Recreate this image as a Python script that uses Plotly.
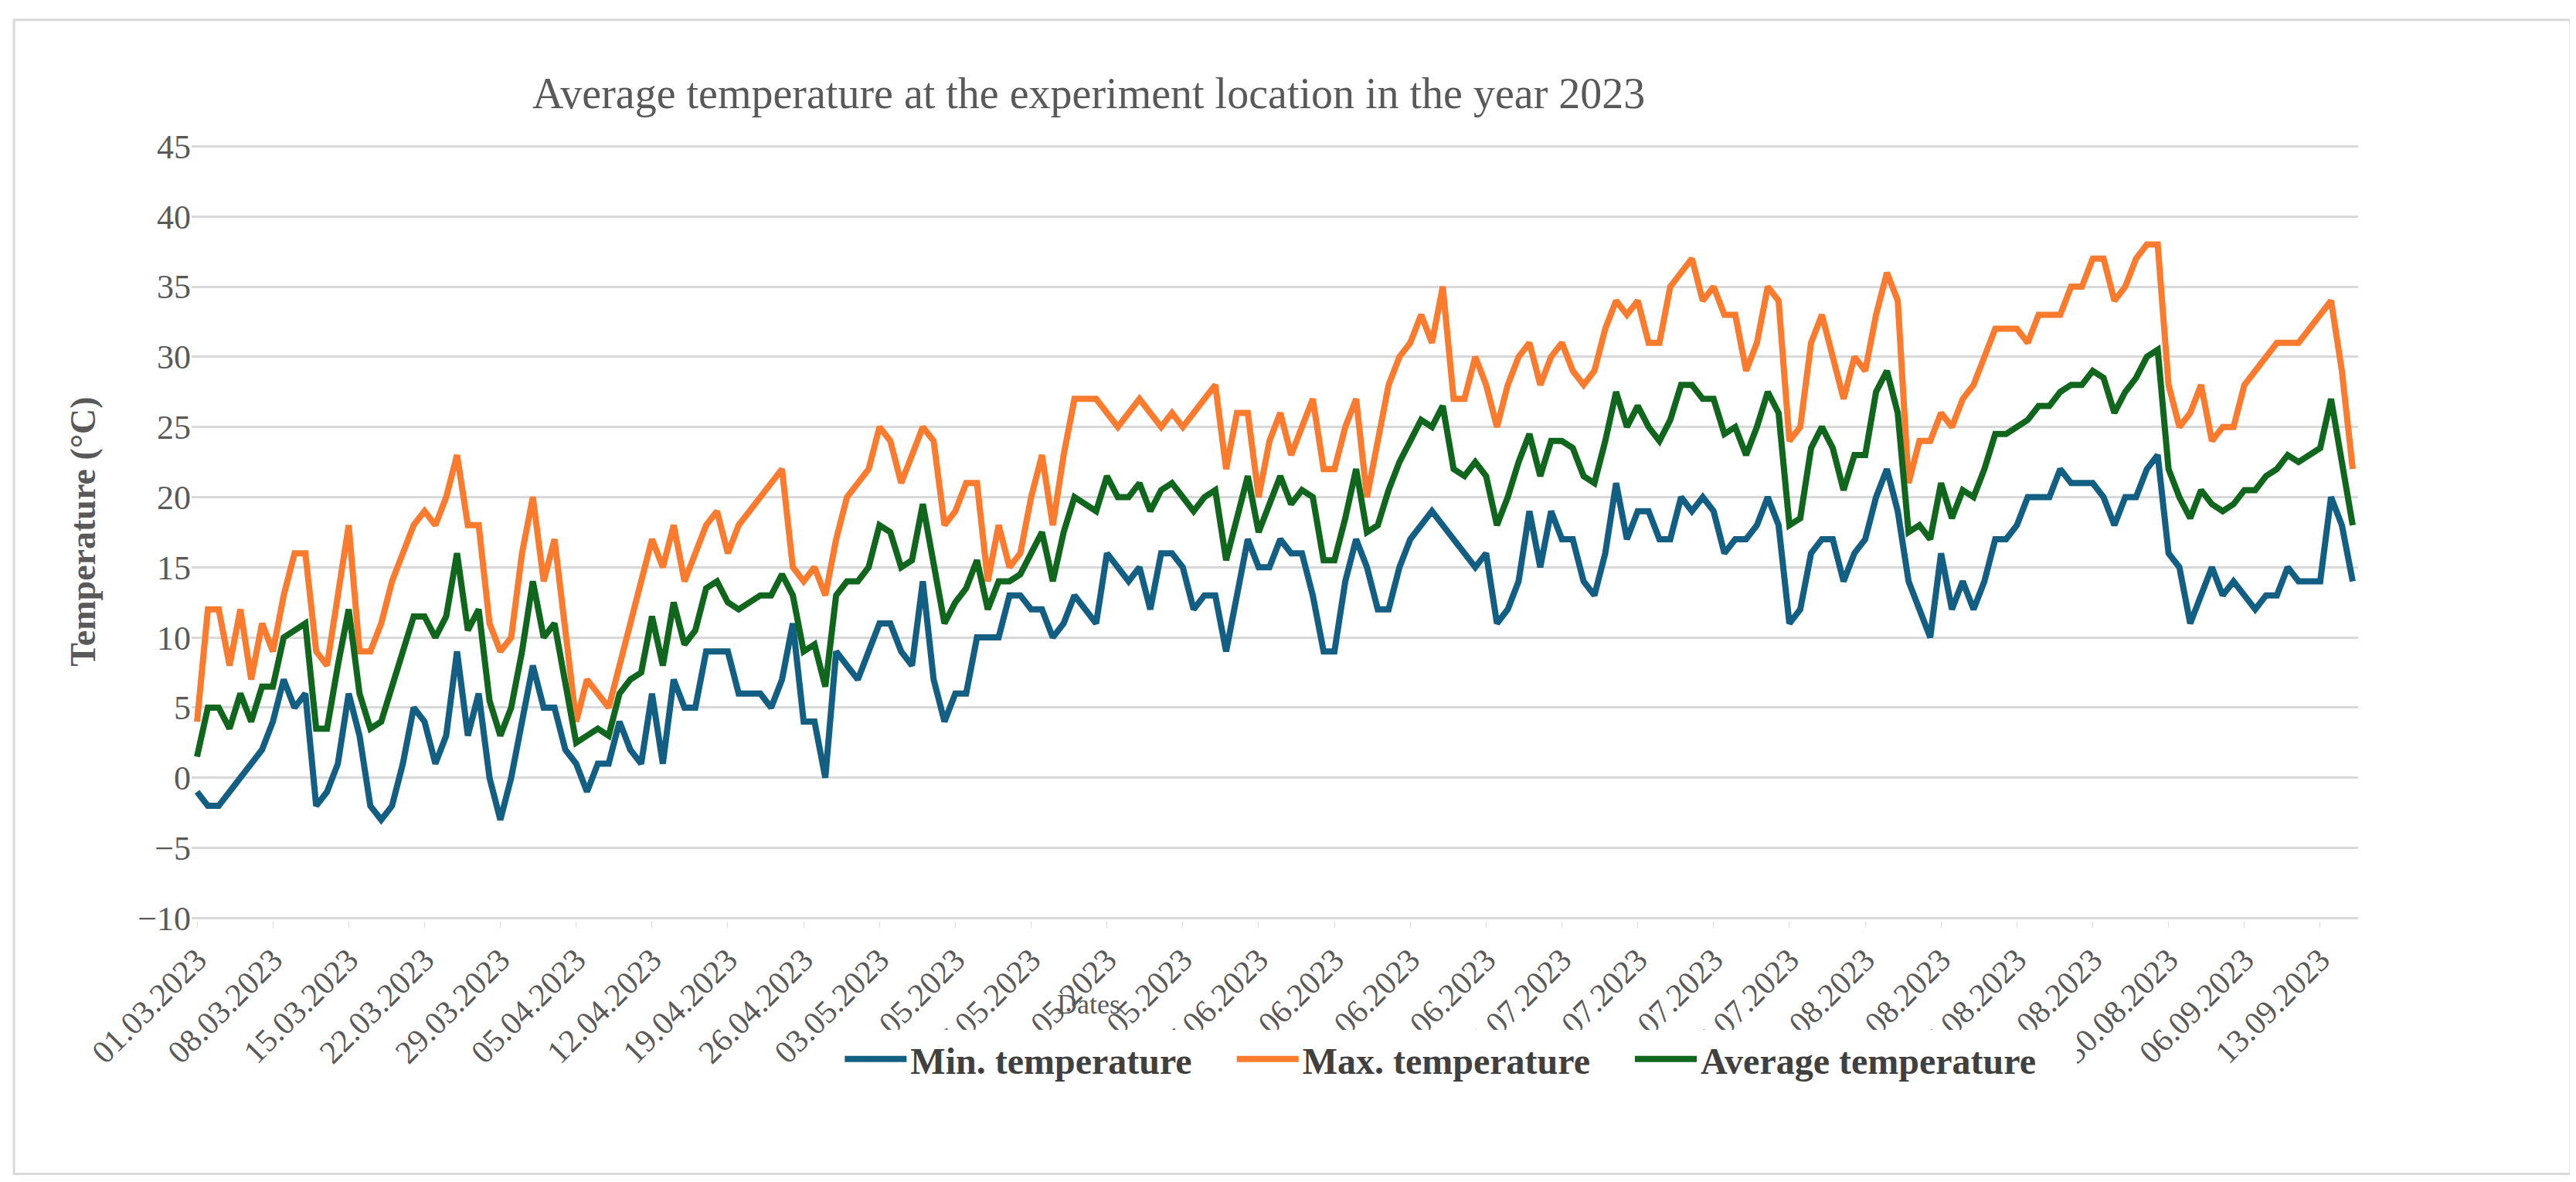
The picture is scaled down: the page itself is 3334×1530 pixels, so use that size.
import datetime as dt
import plotly.graph_objects as go

# daily values, 01.03.2023 - 17.09.2023
max_temp = (
    [4, 12, 12, 8, 12, 7, 11, 9, 13, 16, 16, 9, 8, 13, 18, 9, 9, 11, 14, 16, 18, 19, 18, 20, 23, 18, 18, 11, 9]
    + [10, 16, 20, 14, 17, 10, 4, 7, 6, 5, 8, 11, 14, 17, 15, 18, 14, 16, 18, 19, 16, 18, 19, 20, 21, 22, 15, 14, 15, 13, 17, 20, 21]
    + [22, 25, 24, 21, 23, 25, 24, 18, 19, 21, 21, 14, 18, 15, 16, 20, 23, 18, 23, 27, 27, 27, 26, 25, 26, 27, 26, 25, 26, 25, 26, 27]
    + [28, 22, 26, 26, 20, 24, 26, 23, 25, 27, 22, 22, 25, 27, 20, 24, 28, 30, 31, 33, 31, 35, 27, 27, 30, 28, 25, 28, 30, 31, 28, 30]
    + [31, 29, 28, 29, 32, 34, 33, 34, 31, 31, 35, 36, 37, 34, 35, 33, 33, 29, 31, 35, 34, 24, 25, 31, 33, 30, 27, 30, 29, 33, 36, 34]
    + [21, 24, 24, 26, 25, 27, 28, 30, 32, 32, 32, 31, 33, 33, 33, 35, 35, 37, 37, 34, 35, 37, 38, 38]
    + [28, 25, 26, 28, 24, 25, 25, 28, 29, 30, 31, 31, 31, 32, 33, 34, 29, 22]
)
min_temp = (
    [-1, -2, -2, -1, 0, 1, 2, 4, 7, 5, 6, -2, -1, 1, 6, 3, -2, -3, -2, 1, 5, 4, 1, 3, 9, 3, 6, 0, -3]
    + [0, 4, 8, 5, 5, 2, 1, -1, 1, 1, 4, 2, 1, 6, 1, 7, 5, 5, 9, 9, 9, 6, 6, 6, 5, 7, 11, 4, 4, 0, 9, 8, 7]
    + [9, 11, 11, 9, 8, 14, 7, 4, 6, 6, 10, 10, 10, 13, 13, 12, 12, 10, 11, 13, 12, 11, 16, 15, 14, 15, 12, 16, 16, 15, 12, 13]
    + [13, 9, 13, 17, 15, 15, 17, 16, 16, 13, 9, 9, 14, 17, 15, 12, 12, 15, 17, 18, 19, 18, 17, 16, 15, 16, 11, 12, 14, 19, 15, 19]
    + [17, 17, 14, 13, 16, 21, 17, 19, 19, 17, 17, 20, 19, 20, 19, 16, 17, 17, 18, 20, 18, 11, 12, 16, 17, 17, 14, 16, 17, 20, 22, 19]
    + [14, 12, 10, 16, 12, 14, 12, 14, 17, 17, 18, 20, 20, 20, 22, 21, 21, 21, 20, 18, 20, 20, 22, 23]
    + [16, 15, 11, 13, 15, 13, 14, 13, 12, 13, 13, 15, 14, 14, 14, 20, 18, 14]
)
avg_temp = (
    [1.5, 5, 5, 3.5, 6, 4, 6.5, 6.5, 10, 10.5, 11, 3.5, 3.5, 8, 12, 6, 3.5, 4, 6.5, 9, 11.5, 11.5, 10, 11.5, 16, 10.5, 12, 5.5, 3]
    + [5, 9, 14, 10, 11, 7, 2.5, 3, 3.5, 3, 6, 7, 7.5, 11.5, 8, 12.5, 9.5, 10.5, 13.5, 14, 12.5, 12, 12.5, 13, 13, 14.5, 13, 9, 9.5, 6.5, 13, 14, 14]
    + [15, 18, 17.5, 15, 15.5, 19.5, 15, 11, 12.5, 13.5, 15.5, 12, 14, 14, 14.5, 16, 17.5, 14, 17.5, 20, 19.5, 19, 21.5, 20, 20, 21, 19, 20.5, 21, 20, 19, 20]
    + [20.5, 15.5, 18.5, 21.5, 17.5, 19.5, 21.5, 19.5, 20.5, 20, 15.5, 15.5, 18.5, 22, 17.5, 18, 20.5, 22.5, 24, 25.5, 25, 26.5, 22, 21.5, 22.5, 21.5, 18, 20, 22.5, 24.5, 21.5, 24]
    + [24, 23.5, 21.5, 21, 24, 27.5, 25, 26.5, 25, 24, 25.5, 28, 28, 27, 27, 24.5, 25, 23, 25, 27.5, 26, 18, 18.5, 23.5, 25, 23.5, 20.5, 23, 23, 27.5, 29, 26]
    + [17.5, 18, 17, 21, 18.5, 20.5, 20, 22, 24.5, 24.5, 25, 25.5, 26.5, 26.5, 27.5, 28, 28, 29, 28.5, 26, 27.5, 28.5, 30, 30.5]
    + [22, 20, 18.5, 20.5, 19.5, 19, 19.5, 20.5, 20.5, 21.5, 22, 23, 22.5, 23, 23.5, 27, 22.5, 18]
)
assert len(max_temp) == len(min_temp) == len(avg_temp) == 200

start = dt.date(2023, 3, 1)
dates = [(start + dt.timedelta(days=i)).strftime("%d.%m.%Y") for i in range(len(min_temp))]
tick_dates = dates[::7]

serif = "Liberation Serif"
series = [
    ("Min. temperature", min_temp, "#135E83"),
    ("Max. temperature", max_temp, "#FA7A2E"),
    ("Average temperature", avg_temp, "#10661C"),
]

fig = go.Figure()
for name, vals, col in series:
    fig.add_trace(go.Scatter(x=dates, y=vals, mode="lines",
                             name="<b>" + name + "</b>&nbsp;&nbsp;&nbsp;&nbsp;",
                             line=dict(color=col, width=8)))

fig.update_layout(
    width=3334, height=1530,
    margin=dict(l=240, r=290, t=176, b=346),
    paper_bgcolor="white", plot_bgcolor="white",
    font=dict(family=serif, color="#595959"),
    showlegend=True,
    legend=dict(orientation="h", x=0.585, xanchor="center", y=-0.14, yanchor="top",
                font=dict(size=48, color="#404040", family=serif), itemwidth=80,
                traceorder="normal"),
    shapes=[dict(type="rect", xref="paper", yref="paper", x0=-0.082, x1=1.098,
                 y0=-0.325, y1=1.157, line=dict(color="#D9D9D9", width=3))],
    annotations=[
        dict(text="Average temperature at the experiment location in the year 2023",
             xref="paper", yref="paper", x=0.414, y=1.095, showarrow=False,
             font=dict(size=56, color="#595959", family=serif)),
        dict(text="Dates", xref="paper", yref="paper", x=0.414, y=-0.085,
             yanchor="top", showarrow=False, font=dict(size=36, color="#595959", family=serif)),
    ],
)
fig.update_xaxes(type="category", tickmode="array", tickvals=tick_dates, ticktext=tick_dates,
                 tickangle=-45, range=[-0.5, len(dates) - 0.5], showgrid=False,
                 tickfont=dict(size=42, color="#595959", family=serif),
                 ticks="outside", ticklen=8, tickcolor="#D9D9D9", showline=False,
                 tickprefix="<b>", ticksuffix="</b>")
fig.update_yaxes(range=[-10.2, 45.3], tickvals=list(range(-10, 50, 5)), showgrid=True,
                 gridcolor="#D9D9D9", gridwidth=3,
                 zeroline=False, tickfont=dict(size=44, color="#595959", family=serif),
                 title=dict(text="<b>Temperature (°C)</b>", font=dict(size=46, color="#595959", family=serif),
                            standoff=40),
                 tickprefix="<b>", ticksuffix="</b>")

fig.write_html("out.html")
